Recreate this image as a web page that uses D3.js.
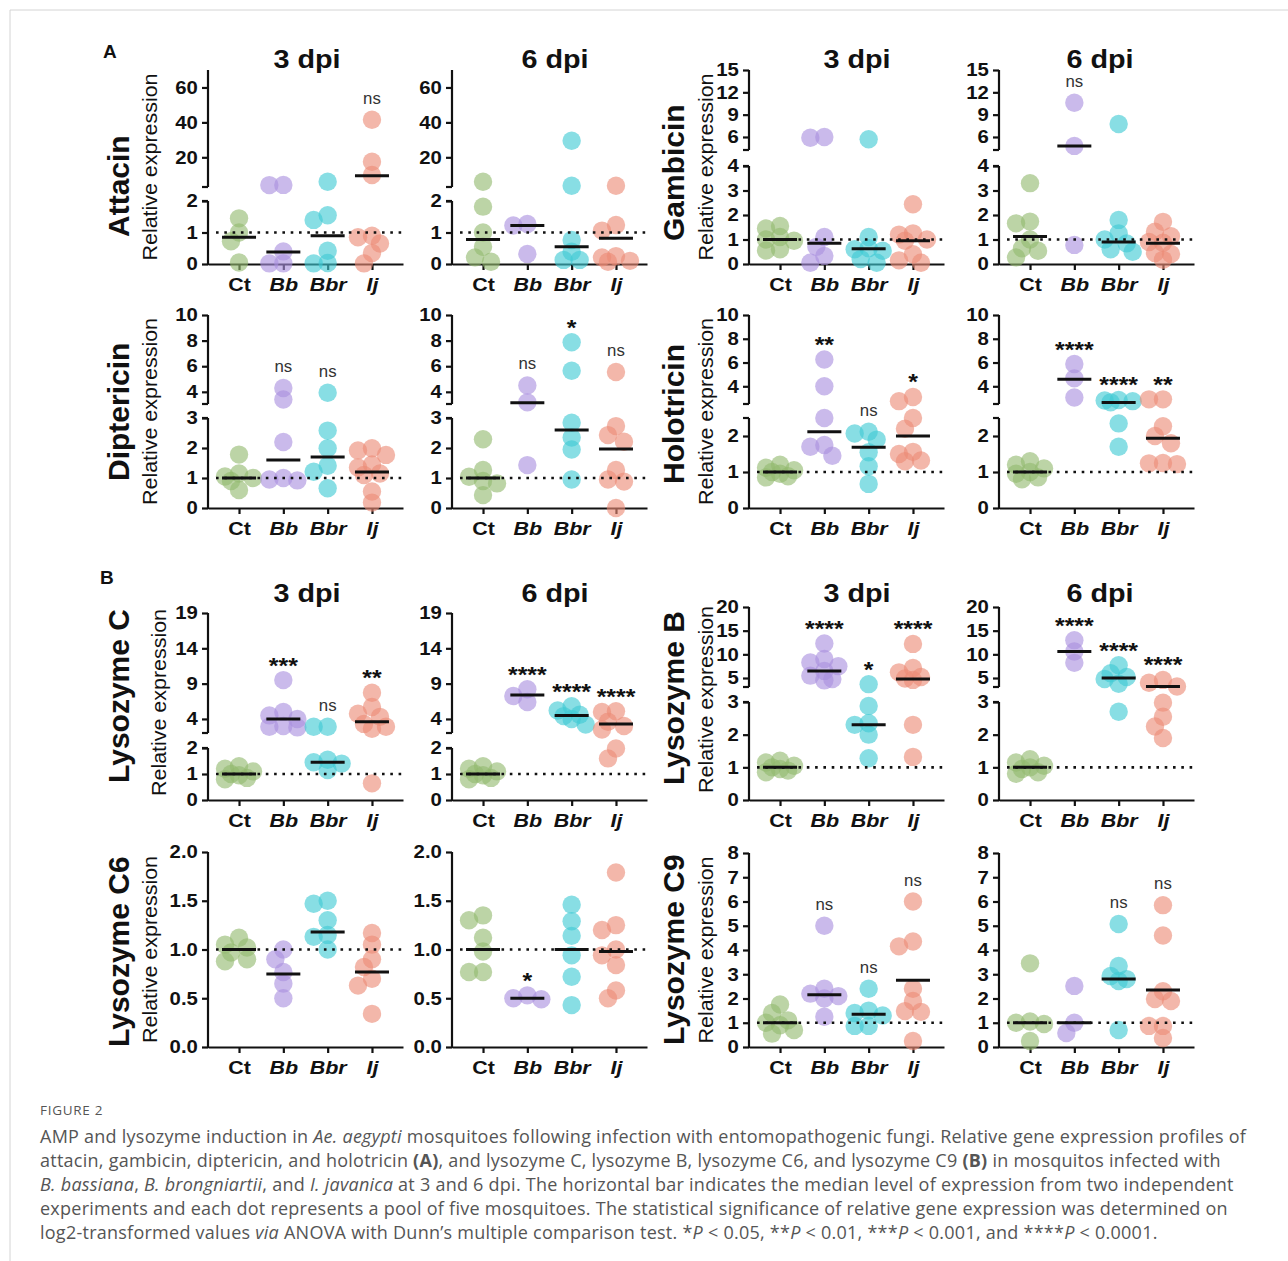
<!DOCTYPE html>
<html>
<head>
<meta charset="utf-8">
<script src="https://cdn.jsdelivr.net/npm/d3@7"></script>
<style>
  body { margin: 0; background: #fff; }
  text { font-family: "Liberation Sans", Arial, sans-serif; }
  .cap { font-family: "Open Sans", "Noto Sans", sans-serif; fill: #555; }
</style>
</head>
<body>
<svg id="fig" width="1288" height="1261"></svg>
<script>
const groups = ["Ct", "Bb", "Bbr", "Ij"];
const groupFill = ["#93b96f", "#a98fdf", "#3fc9d3", "#ec8a76"];

// y axes, broken ones as [0, lowTop, highBottom, top]
const attacinDomain = [0, 2, 3, 70];
const attacinTicks = [0, 1, 2, 20, 40, 60];
const gambicinDomain = [0, 4, 4.25, 15];
const gambicinTicks = [0, 1, 2, 3, 4, 6, 9, 12, 15];
const diptericinDomain = [0, 3, 3.05, 10];
const diptericinTicks = [0, 1, 2, 3, 4, 6, 8, 10];
const holotricinDomain = [0, 2.5, 2.51, 10];
const holotricinTicks = [0, 1, 2, 4, 6, 8, 10];
const lysCDomain = [0, 2, 2.01, 19];
const lysCTicks = [0, 1, 2, 4, 9, 14, 19];
const lysBDomain = [0, 3, 3.1, 20];
const lysBTicks = [0, 1, 2, 3, 5, 10, 15, 20];
const lysC6Domain = [0, 2];
const lysC6Ticks = [0, 0.5, 1, 1.5, 2];
const lysC9Domain = [0, 8];
const lysC9Ticks = [0, 1, 2, 3, 4, 5, 6, 7, 8];

// relative expression per group (Ct, Bb, Bbr, Ij), medians and significance
const attacin3 = [[1.45, 1.0, 0.72, 0.05], [4.2, 4.1, 0.4, 0.02, 0.02], [6.0, 1.55, 1.4, 0.42, 0.03, 0.02], [41.5, 17.5, 9.9, 0.9, 0.85, 0.65, 0.35, 0.02]];
const attacin3Med = [0.85, 0.38, 0.9, 9.5];
const attacin3Sig = ["", "", "", "ns"];
const attacin6 = [[6.0, 1.82, 1.0, 0.55, 0.21, 0.07], [1.27, 1.22, 0.32], [29.5, 3.7, 0.76, 0.39, 0.13, 0.13], [3.7, 1.24, 1.06, 0.25, 0.21, 0.1, 0.07]];
const attacin6Med = [0.78, 1.22, 0.55, 0.82];
const attacin6Sig = ["", "", "", ""];

const gambicin3 = [[1.55, 1.45, 1.1, 1.0, 0.95, 0.6, 0.55], [6.0, 5.9, 1.1, 0.7, 0.33, 0.05], [5.7, 1.1, 0.64, 0.6, 0.54, 0.2, 0.05], [2.44, 1.25, 1.2, 1.0, 0.95, 0.4, 0.15, 0.05]];
const gambicin3Med = [1.0, 0.85, 0.62, 0.95];
const gambicin3Sig = ["", "", "", ""];
const gambicin6 = [[3.3, 1.73, 1.66, 1.0, 0.64, 0.54, 0.27], [10.6, 4.8, 0.78], [7.74, 1.8, 1.25, 1.0, 0.84, 0.6, 0.5], [1.72, 1.32, 1.13, 0.9, 0.87, 0.45, 0.41, 0.17]];
const gambicin6Med = [1.12, 4.8, 0.9, 0.85];
const gambicin6Sig = ["", "ns", "", ""];

const diptericin3 = [[1.78, 1.15, 1.05, 1.0, 0.9, 0.6], [4.3, 3.4, 2.2, 1.0, 0.95, 0.92], [3.93, 2.58, 1.99, 1.41, 1.21, 0.66], [1.99, 1.92, 1.77, 1.45, 1.35, 1.15, 1.1, 0.55, 0.18]];
const diptericin3Med = [1.0, 1.6, 1.7, 1.2];
const diptericin3Sig = ["", "ns", "ns", ""];
const diptericin6 = [[2.29, 1.27, 1.04, 0.9, 0.82, 0.43], [4.5, 3.18, 1.43], [7.87, 5.65, 2.84, 2.35, 1.95, 0.95], [5.55, 2.73, 2.43, 2.21, 1.27, 0.95, 0.88, 0.0]];
const diptericin6Med = [1.0, 3.15, 2.6, 1.97];
const diptericin6Sig = ["", "ns", "*", "ns"];

const holotricin3 = [[1.2, 1.12, 1.05, 1.0, 0.95, 0.88, 0.85], [6.25, 4.0, 2.5, 1.75, 1.7, 1.45], [2.12, 2.07, 1.9, 1.55, 1.16, 0.67], [3.1, 2.75, 2.5, 2.2, 1.56, 1.5, 1.32, 1.3]];
const holotricin3Med = [1.0, 2.12, 1.69, 2.0];
const holotricin3Sig = ["", "**", "ns", "*"];
const holotricin6 = [[1.3, 1.2, 1.1, 1.0, 0.95, 0.85, 0.8], [5.87, 4.67, 3.06], [2.85, 2.8, 2.75, 2.65, 2.35, 1.7], [2.9, 2.9, 2.27, 2.0, 1.8, 1.25, 1.22, 1.24]];
const holotricin6Med = [1.0, 4.6, 2.64, 1.94];
const holotricin6Sig = ["", "****", "****", "**"];

const lysC3 = [[1.3, 1.2, 1.1, 1.0, 0.95, 0.85, 0.8], [9.5, 5.0, 4.5, 4.0, 3.0, 2.9, 2.8], [2.9, 2.9, 1.55, 1.45, 1.4, 1.15], [7.7, 5.7, 4.75, 4.3, 3.3, 2.9, 2.6, 0.64]];
const lysC3Med = [1.0, 4.0, 1.45, 3.6];
const lysC3Sig = ["", "***", "ns", "**"];
const lysC6 = [[1.3, 1.2, 1.1, 1.0, 0.95, 0.85, 0.8], [8.2, 7.24, 6.4], [5.8, 5.2, 4.6, 4.4, 4.0, 3.2], [5.1, 5.0, 3.6, 3.0, 2.5, 1.98, 1.6]];
const lysC6Med = [1.0, 7.4, 4.5, 3.3];
const lysC6Sig = ["", "****", "****", "****"];

const lysB3 = [[1.2, 1.15, 1.05, 1.0, 0.95, 0.9, 0.85], [12.3, 9.0, 8.3, 7.5, 6.5, 5.5, 4.8, 4.5], [3.7, 2.88, 2.35, 2.3, 2.0, 1.28], [12.2, 7.1, 6.2, 5.2, 4.9, 4.6, 2.3, 1.32]];
const lysB3Med = [1.0, 6.5, 2.3, 4.8];
const lysB3Sig = ["", "****", "*", "****"];
const lysB6 = [[1.25, 1.15, 1.05, 1.0, 0.95, 0.85, 0.8], [13.0, 10.6, 8.2], [7.7, 6.0, 5.2, 4.8, 3.8, 2.7], [4.6, 4.0, 3.2, 2.98, 2.55, 2.25, 1.9]];
const lysB6Med = [1.0, 10.6, 5.0, 3.2];
const lysB6Sig = ["", "****", "****", "****"];

const lysC6x3 = [[1.12, 1.05, 1.02, 0.97, 0.9, 0.88], [1.0, 0.9, 0.77, 0.65, 0.5], [1.5, 1.47, 1.3, 1.15, 1.13, 1.0], [1.17, 1.05, 0.9, 0.82, 0.7, 0.63, 0.34]];
const lysC6x3Med = [1.0, 0.75, 1.18, 0.77];
const lysC6x3Sig = ["", "", "", ""];
const lysC6x6 = [[1.35, 1.3, 1.12, 0.98, 0.77, 0.77], [0.53, 0.5, 0.49], [1.46, 1.29, 1.14, 0.94, 0.72, 0.43], [1.79, 1.25, 1.2, 1.0, 0.94, 0.84, 0.58, 0.5]];
const lysC6x6Med = [1.0, 0.5, 1.0, 0.98];
const lysC6x6Sig = ["", "*", "", ""];

const lysC9x3 = [[1.75, 1.4, 1.1, 1.0, 0.9, 0.7, 0.55], [5.0, 2.4, 2.2, 2.1, 2.0, 1.25], [2.4, 1.5, 1.4, 1.3, 0.87, 0.87], [6.0, 4.35, 4.15, 2.4, 1.9, 1.48, 1.45, 0.25]];
const lysC9x3Med = [1.0, 2.15, 1.35, 2.75];
const lysC9x3Sig = ["", "ns", "ns", "ns"];
const lysC9x6 = [[3.45, 1.05, 1.0, 0.95, 0.25], [2.52, 1.0, 0.58], [5.07, 3.34, 2.93, 2.8, 2.72, 0.7], [5.85, 4.6, 2.3, 1.98, 1.9, 0.87, 0.87, 0.37]];
const lysC9x6Med = [1.0, 1.0, 2.8, 2.35];
const lysC9x6Sig = ["", "", "ns", "ns"];

const captionLines = [
  [["AMP and lysozyme induction in "], ["Ae. aegypti", "i"], [" mosquitoes following infection with entomopathogenic fungi. Relative gene expression profiles of"]],
  [["attacin, gambicin, diptericin, and holotricin "], ["(A)", "b"], [", and lysozyme C, lysozyme B, lysozyme C6, and lysozyme C9 "], ["(B)", "b"], [" in mosquitos infected with"]],
  [["B. bassiana", "i"], [", "], ["B. brongniartii", "i"], [", and "], ["I. javanica", "i"], [" at 3 and 6 dpi. The horizontal bar indicates the median level of expression from two independent"]],
  [["experiments and each dot represents a pool of five mosquitoes. The statistical significance of relative gene expression was determined on"]],
  [["log2-transformed values "], ["via", "i"], [" ANOVA with Dunn\u2019s multiple comparison test. *"], ["P", "i"], [" < 0.05, **"], ["P", "i"], [" < 0.01, ***"], ["P", "i"], [" < 0.001, and ****"], ["P", "i"], [" < 0.0001."]]
];

// layout
const colX = [208, 452, 749, 999];
const titleX = [307, 555, 857, 1100];
const rowY0 = [264, 508, 800, 1047];
const SX = 1.13; // figure lettering is a bit wider than Arial

const panels = [
  { r: 0, c: 0, t: "3 dpi", d: attacin3, m: attacin3Med, s: attacin3Sig, dom: attacinDomain, ticks: attacinTicks, segs: [63, 14, 117] },
  { r: 0, c: 1, t: "6 dpi", d: attacin6, m: attacin6Med, s: attacin6Sig, dom: attacinDomain, ticks: attacinTicks, segs: [63, 14, 117] },
  { r: 0, c: 2, t: "3 dpi", d: gambicin3, m: gambicin3Med, s: gambicin3Sig, dom: gambicinDomain, ticks: gambicinTicks, segs: [98, 16, 80] },
  { r: 0, c: 3, t: "6 dpi", d: gambicin6, m: gambicin6Med, s: gambicin6Sig, dom: gambicinDomain, ticks: gambicinTicks, segs: [98, 16, 80] },
  { r: 1, c: 0, d: diptericin3, m: diptericin3Med, s: diptericin3Sig, dom: diptericinDomain, ticks: diptericinTicks, segs: [90, 14, 89] },
  { r: 1, c: 1, d: diptericin6, m: diptericin6Med, s: diptericin6Sig, dom: diptericinDomain, ticks: diptericinTicks, segs: [90, 14, 89] },
  { r: 1, c: 2, d: holotricin3, m: holotricin3Med, s: holotricin3Sig, dom: holotricinDomain, ticks: holotricinTicks, segs: [90, 14, 89] },
  { r: 1, c: 3, d: holotricin6, m: holotricin6Med, s: holotricin6Sig, dom: holotricinDomain, ticks: holotricinTicks, segs: [90, 14, 89] },
  { r: 2, c: 0, t: "3 dpi", d: lysC3, m: lysC3Med, s: lysC3Sig, dom: lysCDomain, ticks: lysCTicks, segs: [52, 15, 120] },
  { r: 2, c: 1, t: "6 dpi", d: lysC6, m: lysC6Med, s: lysC6Sig, dom: lysCDomain, ticks: lysCTicks, segs: [52, 15, 120] },
  { r: 2, c: 2, t: "3 dpi", d: lysB3, m: lysB3Med, s: lysB3Sig, dom: lysBDomain, ticks: lysBTicks, segs: [98, 15, 80] },
  { r: 2, c: 3, t: "6 dpi", d: lysB6, m: lysB6Med, s: lysB6Sig, dom: lysBDomain, ticks: lysBTicks, segs: [98, 15, 80] },
  { r: 3, c: 0, d: lysC6x3, m: lysC6x3Med, s: lysC6x3Sig, dom: lysC6Domain, ticks: lysC6Ticks, segs: [195], fmt: ".1f" },
  { r: 3, c: 1, d: lysC6x6, m: lysC6x6Med, s: lysC6x6Sig, dom: lysC6Domain, ticks: lysC6Ticks, segs: [195], fmt: ".1f" },
  { r: 3, c: 2, d: lysC9x3, m: lysC9x3Med, s: lysC9x3Sig, dom: lysC9Domain, ticks: lysC9Ticks, segs: [194] },
  { r: 3, c: 3, d: lysC9x6, m: lysC9x6Med, s: lysC9x6Sig, dom: lysC9Domain, ticks: lysC9Ticks, segs: [194] }
];

// gene name on the left of each row pair: [text, col, row, bottom y]
const geneLabels = [
  ["Attacin", 0, 0, 237], ["Gambicin", 2, 0, 241],
  ["Diptericin", 0, 1, 481], ["Holotricin", 2, 1, 484],
  ["Lysozyme C", 0, 2, 783], ["Lysozyme B", 2, 2, 785],
  ["Lysozyme C6", 0, 3, 1047], ["Lysozyme C9", 2, 3, 1045]
];

const svg = d3.select("#fig");

// page border
svg.append("path").attr("d", "M10,1261V10H1288").attr("fill", "none").attr("stroke", "#d4d4d4");

function txt(g, x, y, str, o) {
  const rot = o.rot ? ` rotate(${o.rot})` : "";
  return g.append("text")
    .attr("transform", `translate(${x},${y})${rot} scale(${o.sx || 1},1)`)
    .attr("text-anchor", o.anchor || "middle")
    .style("font-size", o.size + "px")
    .style("font-weight", o.bold ? "bold" : "normal")
    .style("font-style", o.italic ? "italic" : "normal")
    .attr("fill", o.fill || "#111")
    .text(str);
}

// spread overlapping dots sideways, a bit like a column scatter
function spread(vals, y, cx) {
  const out = [];
  const offs = [0, -8, 8, -14, 14];
  const order = vals.map((v, i) => i).sort((a, b) => vals[b] - vals[a]);
  order.forEach((i) => {
    const py = y(vals[i]);
    let best = 0, bestD = -1;
    for (const o of offs) {
      const d = out.length ? d3.min(out, (q) => Math.hypot(q.x - (cx + o), q.y - py)) : Infinity;
      if (d >= 11) { best = o; break; }
      if (d > bestD) { bestD = d; best = o; }
    }
    out.push({ x: cx + best, y: py });
  });
  return out;
}

function drawPanel(p) {
  const g = svg.append("g");
  const x0 = colX[p.c], y0 = rowY0[p.r];
  const range = [y0];
  p.segs.forEach((s) => range.push(range[range.length - 1] - s));
  const y = d3.scaleLinear().domain(p.dom).range(range);
  const x = d3.scalePoint().domain(groups).range([x0, x0 + 195]).padding(0.7);

  // y axis: labelled ticks through d3, line drawn per segment
  const fmt = p.fmt ? d3.format(p.fmt) : d3.format("d");
  const ya = g.append("g").attr("transform", `translate(${x0},0)`)
    .call(d3.axisLeft(y).tickValues(p.ticks).tickSize(6).tickPadding(3).tickFormat(fmt));
  ya.select(".domain").remove();
  ya.selectAll(".tick line").attr("stroke", "#111").attr("stroke-width", 2.2);
  ya.selectAll(".tick text")
    .attr("transform", `scale(${SX},1)`)
    .attr("fill", "#111")
    .style("font-family", '"Liberation Sans", Arial, sans-serif')
    .style("font-size", "18px").style("font-weight", "bold");

  const pieces = p.segs.length === 3 ? [[range[0], range[1]], [range[2], range[3]]] : [[range[0], range[1]]];
  pieces.forEach(([a, b], k) => {
    g.append("line").attr("x1", x0).attr("x2", x0).attr("y1", a + (k ? 0 : 1)).attr("y2", b)
      .attr("stroke", "#111").attr("stroke-width", 2.2);
  });
  if (p.segs.length === 3) {
    [range[1], range[2]].forEach((yy) => {
      g.append("line").attr("x1", x0 - 6).attr("x2", x0).attr("y1", yy).attr("y2", yy)
        .attr("stroke", "#111").attr("stroke-width", 2.2);
    });
  }

  // x axis
  const xa = g.append("g").attr("transform", `translate(0,${y0})`)
    .call(d3.axisBottom(x).tickSize(6).tickSizeOuter(0).tickPadding(8));
  xa.select(".domain").attr("stroke", "#111").attr("stroke-width", 2.2);
  xa.selectAll(".tick line").attr("stroke", "#111").attr("stroke-width", 2.2);
  xa.selectAll(".tick text")
    .attr("transform", `scale(${SX},1)`)
    .attr("fill", "#111")
    .attr("dy", "0.71em")
    .style("font-family", '"Liberation Sans", Arial, sans-serif')
    .style("font-size", "19px").style("font-weight", "bold")
    .style("font-style", (d) => (d === "Ct" ? "normal" : "italic"));

  // dots
  p.d.forEach((vals, i) => {
    const pts = spread(vals, y, x(groups[i]));
    g.append("g").selectAll("circle").data(pts).join("circle")
      .attr("cx", (d) => d.x).attr("cy", (d) => d.y).attr("r", 9.2)
      .attr("fill", groupFill[i]).attr("fill-opacity", 0.62);
  });

  // reference line at 1
  g.append("line").attr("x1", x0 + 8).attr("x2", x0 + 195).attr("y1", y(1)).attr("y2", y(1))
    .attr("stroke", "#111").attr("stroke-width", 2.6).attr("stroke-dasharray", "2.6 5.7");

  // medians
  g.append("g").selectAll("line").data(p.m).join("line")
    .attr("x1", (d, i) => x(groups[i]) - 17).attr("x2", (d, i) => x(groups[i]) + 17)
    .attr("y1", (d) => y(d)).attr("y2", (d) => y(d))
    .attr("stroke", "#111").attr("stroke-width", 3);

  // significance
  p.s.forEach((s, i) => {
    if (!s) return;
    const yc = y(d3.max(p.d[i])) - 20;
    if (s === "ns") txt(g, x(groups[i]), yc + 4, s, { size: 16, sx: 1.05, fill: "#333" });
    else txt(g, x(groups[i]), yc + 12.5, s, { size: 22, bold: true, sx: SX });
  });

  if (p.t) txt(g, titleX[p.c], p.r === 0 ? 68 : 602, p.t, { size: 25, bold: true, sx: 1.15 });
}

panels.forEach(drawPanel);

// row labels
geneLabels.forEach(([name, c, r, yb]) => {
  const bx = c === 0 ? 129 : 684;
  txt(svg, bx, yb, name, { size: 30, bold: true, rot: -90, anchor: "start" });
  const y0 = rowY0[r];
  const p = panels.find((q) => q.r === r && q.c === c);
  const top = y0 - d3.sum(p.segs);
  const rx = c === 0 ? (r === 2 ? 166 : 157) : 713;
  txt(svg, rx, (y0 + top) / 2 - (r === 2 ? 4 : 0), "Relative expression", { size: 19.5, rot: -90, sx: 1.1 });
});

txt(svg, 103, 58, "A", { size: 19, bold: true, anchor: "start" });
txt(svg, 100, 584, "B", { size: 19, bold: true, anchor: "start" });

// caption
svg.append("text").attr("class", "cap").attr("x", 40).attr("y", 1115)
  .style("font-size", "13.5px").style("letter-spacing", "0.7px").text("FIGURE 2");
captionLines.forEach((runs, li) => {
  const t = svg.append("text").attr("class", "cap").attr("x", 40).attr("y", 1143 + li * 24)
    .style("font-size", "18px").style("letter-spacing", "0.25px");
  runs.forEach(([s, f]) => {
    t.append("tspan")
      .style("font-style", f === "i" ? "italic" : "normal")
      .style("font-weight", f === "b" ? "bold" : "normal")
      .text(s);
  });
});
</script>
</body>
</html>
